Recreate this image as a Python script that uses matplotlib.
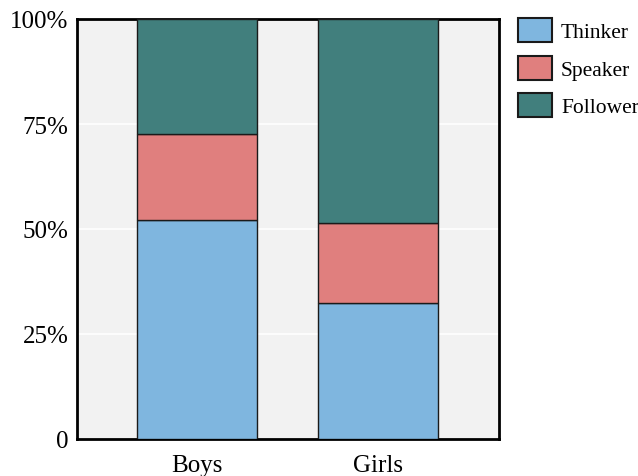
import matplotlib
matplotlib.use("Agg")
import matplotlib.pyplot as plt
from matplotlib.patches import Patch
import numpy as np

plt.rcParams['font.family'] = ['Liberation Serif', 'DejaVu Serif']

categories = ["Boys", "Girls"]
series = ["Thinker", "Speaker", "Follower"]
thinker = [52.2, 32.4]
speaker = [20.5, 19.0]
follower = [27.3, 48.6]
colors = ["#7fb6df", "#e07f7e", "#417f7d"]
yticks = [0, 25, 50, 75, 100]
yticklabels = ["0", "25%", "50%", "75%", "100%"]

fig = plt.figure(figsize=(6.38, 4.77), dpi=100)
ax = fig.add_axes([77/638, 37/477, 422/638, 420/477])
ax.set_facecolor("#f2f2f2")

x = np.arange(len(categories))
bottom = np.zeros(len(categories))
handles = []
for name, vals, c in zip(series, [thinker, speaker, follower], colors):
    ax.bar(x, vals, 0.66, bottom=bottom, color=c, edgecolor="#1a1a1a", linewidth=1.0, zorder=3)
    bottom += np.array(vals)
    handles.append(Patch(facecolor=c, edgecolor="#1a1a1a", linewidth=1.5, label=name))

ax.set_xlim(-0.663, 1.669)
ax.set_ylim(0, 100)
ax.set_yticks(yticks)
ax.set_yticklabels(yticklabels, fontsize=18)
ax.set_xticks(x)
ax.set_xticklabels(categories, fontsize=18)
ax.tick_params(axis="y", length=0, pad=6)
ax.tick_params(axis="x", length=0, pad=11)
ax.yaxis.grid(True, color="white", linewidth=1.2, zorder=0)
ax.set_axisbelow(True)
for s in ax.spines.values():
    s.set_linewidth(2)
    s.set_color("black")

fig.legend(handles=handles, loc="upper left", bbox_to_anchor=(518/638, 1 - 19/477),
           frameon=False, fontsize=15.5, handlelength=1.6, handleheight=1.35,
           labelspacing=0.62, handletextpad=0.4, borderaxespad=0, borderpad=0)

fig.savefig("out.png", dpi=100)
